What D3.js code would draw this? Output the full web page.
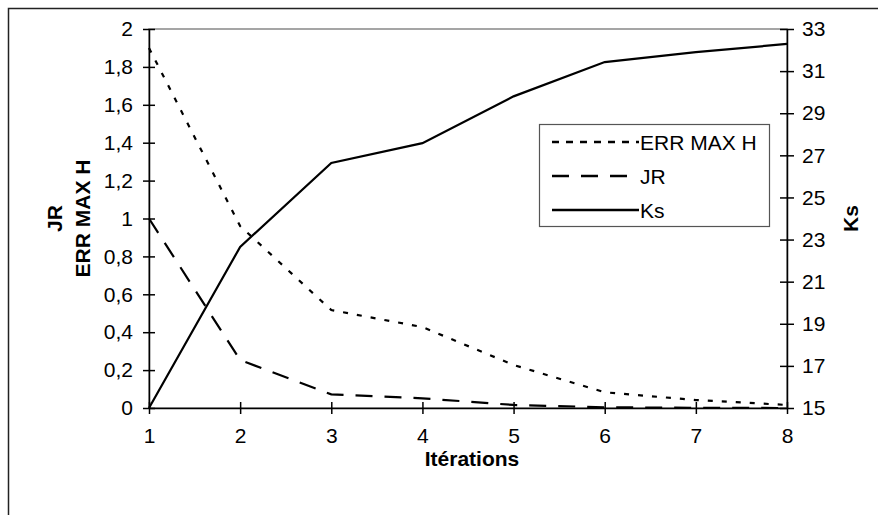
<!DOCTYPE html>
<html>
<head>
<meta charset="utf-8">
<script src="https://cdn.jsdelivr.net/npm/d3@7"></script>
<style>
  body { margin: 0; background: #fff; }
  text { font-family: "Liberation Sans", Arial, sans-serif; fill: #000; }
</style>
</head>
<body>
<script>
var width = 878;
var height = 515;
var margin = {left: 149, right: 91, top: 29, bottom: 107};
var fontSize = 21;

// data
var iterations = [1, 2, 3, 4, 5, 6, 7, 8];
var errMaxH = [1.9, 0.96, 0.517, 0.427, 0.227, 0.083, 0.042, 0.016];
var jr = [1.0, 0.253, 0.072, 0.051, 0.016, 0.004, 0.001, 0];
var ks = [15, 22.65, 26.64, 27.58, 29.8, 31.43, 31.9, 32.29];
var leftTicks = [0, 0.2, 0.4, 0.6, 0.8, 1, 1.2, 1.4, 1.6, 1.8, 2];
var rightTicks = [15, 17, 19, 21, 23, 25, 27, 29, 31, 33];
var seriesNames = ["ERR MAX H", "JR", "Ks"];
var dashes = ["5,9", "17,12", null];

var x = d3.scaleLinear().domain([1, 8]).range([margin.left, width - margin.right]);
var yL = d3.scaleLinear().domain([0, 2]).range([height - margin.bottom, margin.top]);
var yR = d3.scaleLinear().domain([15, 33]).range([height - margin.bottom, margin.top]);

var svg = d3.select("body").append("svg")
  .attr("width", width)
  .attr("height", height);

// outer chart frame (runs off the page on the right and bottom)
svg.append("rect")
  .attr("x", 8.5).attr("y", 8.5)
  .attr("width", 900).attr("height", 600)
  .attr("fill", "none").attr("stroke", "#222").attr("stroke-width", 1.5);

// plot area border
svg.append("rect")
  .attr("x", x(1)).attr("y", yL(2))
  .attr("width", x(8) - x(1)).attr("height", yL(0) - yL(2))
  .attr("fill", "none").attr("stroke", "#888").attr("stroke-width", 1.5);

var fmt = function (d) { return String(d).replace(".", ","); };

// left axis
var gL = svg.append("g")
  .attr("transform", "translate(" + x(1) + ",0)")
  .call(d3.axisLeft(yL).tickValues(leftTicks).tickFormat(fmt).tickSizeInner(6).tickSizeOuter(0).tickPadding(10));
gL.selectAll(".tick line").attr("x2", -6).attr("x1", 6);

// right axis
var gR = svg.append("g")
  .attr("transform", "translate(" + x(8) + ",0)")
  .call(d3.axisRight(yR).tickValues(rightTicks).tickSizeInner(7).tickSizeOuter(0).tickPadding(8));
gR.selectAll(".tick line").attr("x1", -7);

// bottom axis
var gB = svg.append("g")
  .attr("transform", "translate(0," + yL(0) + ")")
  .call(d3.axisBottom(x).tickValues(iterations).tickFormat(d3.format("d")).tickSizeInner(6).tickSizeOuter(0).tickPadding(14));
gB.selectAll(".tick line").attr("y1", -6);

[gL, gR, gB].forEach(function (g) {
  g.selectAll("path, line").attr("stroke", "#000").attr("stroke-width", 1.5);
  g.selectAll("text").attr("font-size", fontSize).attr("fill", "#000")
    .style("font-family", "'Liberation Sans', Arial, sans-serif");
});

// series lines
var series = [
  {name: seriesNames[0], values: errMaxH, y: yL, dash: dashes[0]},
  {name: seriesNames[1], values: jr, y: yL, dash: dashes[1]},
  {name: seriesNames[2], values: ks, y: yR, dash: dashes[2]}
];

series.forEach(function (s) {
  var line = d3.line()
    .x(function (d, i) { return x(iterations[i]); })
    .y(function (d) { return s.y(d); });
  svg.append("path")
    .datum(s.values)
    .attr("d", line)
    .attr("fill", "none")
    .attr("stroke", "#000")
    .attr("stroke-width", 2.2)
    .attr("stroke-dasharray", s.dash);
});

// axis titles
svg.append("text")
  .attr("x", 472).attr("y", 466)
  .attr("text-anchor", "middle")
  .attr("font-size", fontSize).attr("font-weight", "bold")
  .text("Itérations");

var midY = (yL(0) + yL(2)) / 2;
svg.append("text")
  .attr("transform", "translate(62," + midY + ") rotate(-90)")
  .attr("text-anchor", "middle")
  .attr("font-size", fontSize).attr("font-weight", "bold")
  .text("JR");
svg.append("text")
  .attr("transform", "translate(90," + midY + ") rotate(-90)")
  .attr("text-anchor", "middle")
  .attr("font-size", fontSize).attr("font-weight", "bold")
  .text("ERR MAX H");
svg.append("text")
  .attr("transform", "translate(858," + midY + ") rotate(-90)")
  .attr("text-anchor", "middle")
  .attr("font-size", fontSize).attr("font-weight", "bold")
  .text("Ks");

// legend
var legend = svg.append("g").attr("transform", "translate(539,124)");
legend.append("rect")
  .attr("x", 0.5).attr("y", 0.5)
  .attr("width", 230).attr("height", 102)
  .attr("fill", "#fff").attr("stroke", "#555").attr("stroke-width", 1.2);

series.forEach(function (s, i) {
  var cy = 18 + i * 34;
  legend.append("line")
    .attr("x1", 13).attr("x2", 100)
    .attr("y1", cy).attr("y2", cy)
    .attr("stroke", "#000").attr("stroke-width", 2.5)
    .attr("stroke-dasharray", s.dash == null ? null : (i === 0 ? "7,7" : "17,12"));
  legend.append("text")
    .attr("x", 101).attr("y", cy)
    .attr("dy", "0.36em")
    .attr("font-size", fontSize)
    .text(s.name);
});
</script>
</body>
</html>
